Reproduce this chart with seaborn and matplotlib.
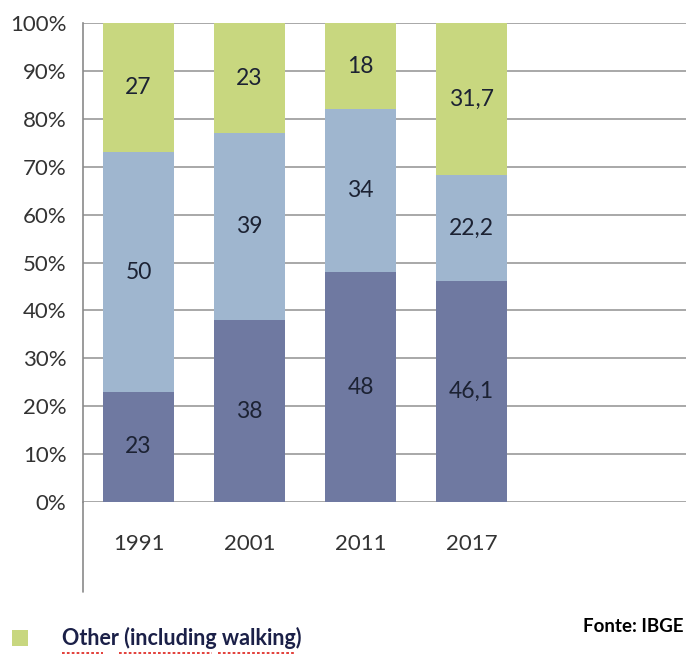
import numpy as np
import pandas as pd
import matplotlib
matplotlib.use("Agg")
import matplotlib.pyplot as plt
from matplotlib.lines import Line2D
from matplotlib.patches import Rectangle
import seaborn as sns

# Data
years = ["1991", "2001", "2011", "2017"]
bottom_vals = [23, 38, 48, 46.1]
middle_vals = [50, 39, 34, 22.2]
other_vals = [27, 23, 18, 31.7]
bottom_labels = ["23", "38", "48", "46,1"]
middle_labels = ["50", "39", "34", "22,2"]
other_labels = ["27", "23", "18", "31,7"]
legend_label = "Other (including walking)"

c_bottom = "#6f79a1"
c_middle = "#9fb6cf"
c_other = "#c8d77f"

sns.set_theme(style="white")
plt.rcParams["font.family"] = ["Lato", "DejaVu Sans"]

df = pd.DataFrame({"year": years, "bottom": bottom_vals,
                   "middle": middle_vals, "other": other_vals})
df["lvl1"] = df["bottom"]
df["lvl2"] = df["bottom"] + df["middle"]
df["lvl3"] = df["lvl2"] + df["other"]

W, H = 686, 663
fig = plt.figure(figsize=(W / 100, H / 100), dpi=100)
ax = fig.add_axes([0.121, 0.2428, 0.879, 0.7225])

# stacked bars: draw cumulative totals, tallest first
sns.barplot(data=df, x="year", y="lvl3", color=c_other, width=0.64,
            saturation=1, ax=ax, zorder=3, linewidth=0)
sns.barplot(data=df, x="year", y="lvl2", color=c_middle, width=0.64,
            saturation=1, ax=ax, zorder=3, linewidth=0)
sns.barplot(data=df, x="year", y="lvl1", color=c_bottom, width=0.64,
            saturation=1, ax=ax, zorder=3, linewidth=0)

# segment labels
for i in range(len(years)):
    segs = [(0, df["lvl1"][i], bottom_labels[i]),
            (df["lvl1"][i], df["lvl2"][i], middle_labels[i]),
            (df["lvl2"][i], df["lvl3"][i], other_labels[i])]
    for lo, hi, lab in segs:
        ax.text(i, (lo + hi) / 2, lab, ha="center", va="center",
                fontsize=16.5, color="#1c2233", zorder=5)

ax.set_xlim(-0.5, 4.93)
ax.set_ylim(0, 100)
ax.set_yticks(np.arange(0, 101, 10))
ax.set_yticklabels([f"{v}%" for v in range(0, 101, 10)])
ax.set_xlabel("")
ax.set_ylabel("")
ax.tick_params(axis="y", length=0, pad=12, labelsize=16, labelcolor="#333333")
ax.tick_params(axis="x", length=0, pad=23, labelsize=16, labelcolor="#333333")
ax.yaxis.grid(True, color="#9a9a9a", linewidth=1.2, zorder=0)
ax.set_axisbelow(True)
for side in ["top", "right", "bottom"]:
    ax.spines[side].set_visible(False)
ax.spines["left"].set_color("#8a8a8a")
ax.spines["left"].set_linewidth(1.2)

# left axis line runs down past the year labels
ax.add_line(Line2D([0, 0], [0, -0.188], transform=ax.transAxes,
                   color="#8a8a8a", linewidth=1.2, clip_on=False))

# legend entry (square + bold label), placed in pixel terms of the figure
fig.add_artist(Rectangle((12 / W, 1 - 646 / H), 16 / W, 16 / H,
                         transform=fig.transFigure, facecolor=c_other,
                         edgecolor="none"))
fig.text(62 / W, 1 - 638 / H, legend_label, fontsize=15.5, fontweight="bold",
         color="#1b2048", ha="left", va="center")
# spell-check squiggles under the legend words
for x0, x1 in [(62, 103), (119, 212), (218, 294)]:
    fig.add_artist(Line2D([x0 / W, x1 / W], [1 - 653 / H, 1 - 653 / H],
                          transform=fig.transFigure, color="#e0302a",
                          linewidth=1.3, linestyle=(0, (1.5, 1.2))))

fig.text(583 / W, 1 - 627 / H, "Fonte: IBGE", fontsize=13.5, fontweight="bold",
         color="black", ha="left", va="center")

fig.savefig("out.png", dpi=100)
